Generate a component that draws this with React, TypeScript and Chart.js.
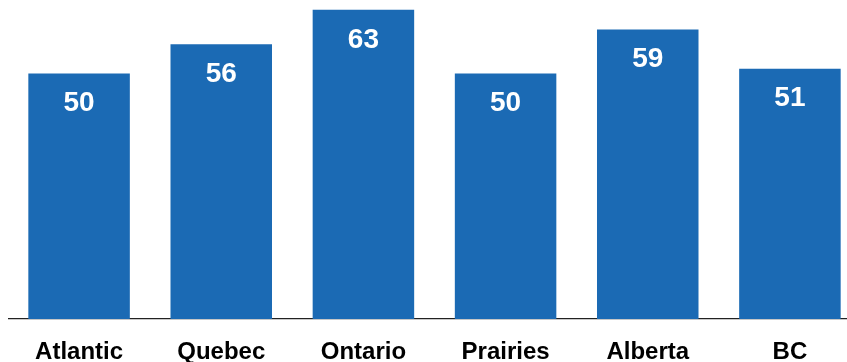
import React, { useEffect, useRef } from "react";
import { Chart, registerables } from "chart.js";

Chart.register(...registerables);

const categories = ["Atlantic", "Quebec", "Ontario", "Prairies", "Alberta", "BC"];
const values = [50, 56, 63, 50, 59, 51];
const yMin = 0;
const yMax = 65;

const BAR_COLOR = "#1b6ab4";
const FONT = "'Liberation Sans', Arial, Helvetica, sans-serif";

const valueLabels = {
  id: "valueLabels",
  afterDatasetsDraw(chart: any) {
    const ctx = chart.ctx;
    const meta = chart.getDatasetMeta(0);
    ctx.save();
    ctx.fillStyle = "#ffffff";
    ctx.font = `bold 28px ${FONT}`;
    ctx.textAlign = "center";
    ctx.textBaseline = "middle";
    meta.data.forEach((bar: any, i: number) => {
      const v = chart.data.datasets[0].data[i];
      ctx.fillText(String(v), bar.x, bar.y + 30);
    });
    ctx.restore();
  },
};

export default function App() {
  const ref = useRef<HTMLCanvasElement>(null);

  useEffect(() => {
    if (!ref.current) return;
    const chart = new Chart(ref.current, {
      type: "bar",
      data: {
        labels: categories,
        datasets: [
          {
            data: values,
            backgroundColor: BAR_COLOR,
            borderWidth: 0,
            categoryPercentage: 1,
            barPercentage: 0.714,
          },
        ],
      },
      options: {
        animation: false,
        responsive: false,
        layout: { padding: 0 },
        plugins: {
          legend: { display: false },
          tooltip: { enabled: false },
        },
        scales: {
          x: {
            grid: { display: false },
            border: { display: true, color: "#222222", width: 1.2 },
            ticks: {
              color: "#000000",
              font: { family: FONT, size: 24, weight: "bold" },
              padding: 11,
              maxRotation: 0,
              autoSkip: false,
            },
            afterFit: (axis: any) => {
              axis.height = 43;
            },
          },
          y: {
            display: false,
            min: yMin,
            max: yMax,
          },
        },
      },
      plugins: [valueLabels],
    });
    return () => chart.destroy();
  }, []);

  return (
    <div
      style={{
        position: "fixed",
        left: 0,
        top: 0,
        width: 847,
        height: 362,
        overflow: "hidden",
        background: "#ffffff",
      }}
    >
      <canvas
        ref={ref}
        width={853}
        height={362}
        style={{ position: "absolute", left: 8, top: 0, display: "block" }}
      />
    </div>
  );
}
